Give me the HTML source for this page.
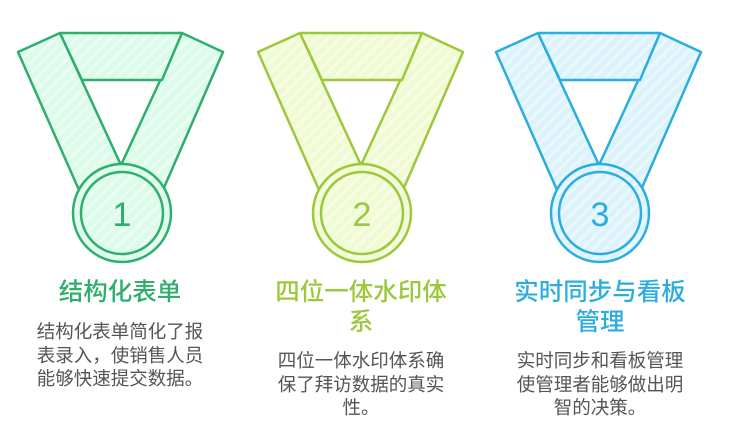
<!DOCTYPE html>
<html><head><meta charset="utf-8"><style>
body{margin:0;width:745px;height:440px;background:#fff;position:relative;overflow:hidden;font-family:"Liberation Sans","Noto Sans CJK SC",sans-serif}
.t{position:absolute;width:240px;text-align:center;font-size:24.5px;line-height:30px;font-weight:500}
.b{position:absolute;width:240px;text-align:center;font-size:18.5px;line-height:23.5px;color:#555}
</style></head><body>
<svg width="745" height="440" style="position:absolute;left:0;top:0">
<defs>
<pattern id="h1" width="8" height="8" patternUnits="userSpaceOnUse" patternTransform="rotate(45)"><rect width="8" height="8" fill="#dcfbea"/><rect width="3" height="8" fill="#e9fdf2"/></pattern>
<pattern id="h2" width="8" height="8" patternUnits="userSpaceOnUse" patternTransform="rotate(45)"><rect width="8" height="8" fill="#f0fbd3"/><rect width="3" height="8" fill="#f6fde4"/></pattern>
<pattern id="h3" width="8" height="8" patternUnits="userSpaceOnUse" patternTransform="rotate(45)"><rect width="8" height="8" fill="#dcf3fc"/><rect width="3" height="8" fill="#eaf8fd"/></pattern>
<g id="m">
<path d="M18 52 L60 33 L120 163 L79 190 Z"/>
<path d="M223 52 L182 33 L122 163 L163 190 Z"/>
<path d="M60 33 L182 33 L162 80 L82 80 Z"/>
<circle cx="122" cy="213" r="49"/>
<circle cx="122" cy="213" r="41"/>
</g>
</defs>
<g stroke="#2eaf6b" stroke-width="2.5" fill="url(#h1)" stroke-linejoin="round"><use href="#m"/></g>
<g stroke="#9cc83c" stroke-width="2.5" fill="url(#h2)" stroke-linejoin="round" transform="translate(240,0)"><use href="#m"/></g>
<g stroke="#2aaee0" stroke-width="2.5" fill="url(#h3)" stroke-linejoin="round" transform="translate(478,0)"><use href="#m"/></g>
<g font-family="Liberation Sans, sans-serif" font-size="34" text-anchor="middle">
<text x="122" y="226" fill="#2eaf6b">1</text>
<text x="362" y="226" fill="#9cc83c">2</text>
<text x="600" y="226" fill="#2aaee0">3</text>
</g>
</svg>
<div class="t" style="left:0px;top:278px;color:#2eaf6b">结构化表单</div>
<div class="b" style="left:0px;top:320px">结构化表单简化了报<br>表录入，使销售人员<br>能够快速提交数据。</div>
<div class="t" style="left:241px;top:278px;color:#9cc83c">四位一体水印体<br>系</div>
<div class="b" style="left:241px;top:349px">四位一体水印体系确<br>保了拜访数据的真实<br>性。</div>
<div class="t" style="left:480px;top:278px;color:#2aaee0">实时同步与看板<br>管理</div>
<div class="b" style="left:480px;top:349px">实时同步和看板管理<br>使管理者能够做出明<br>智的决策。</div>
</body></html>
